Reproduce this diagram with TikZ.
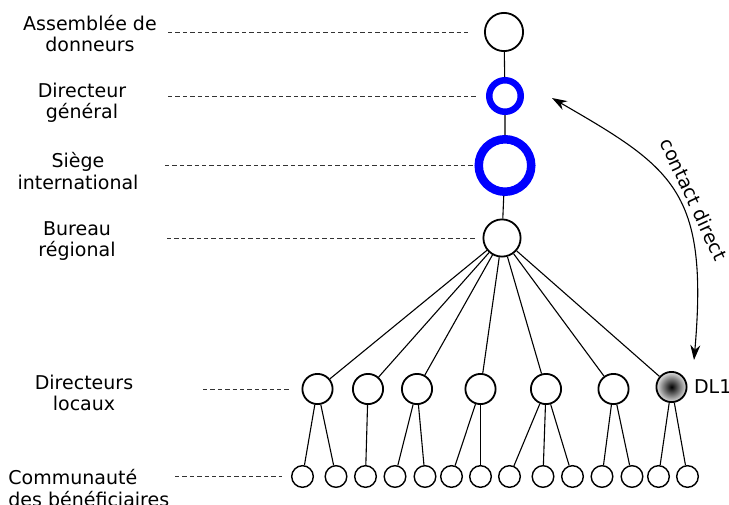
\documentclass[tikz,border=0pt]{standalone}
\usepackage{fontspec}
\setmainfont{DejaVu Sans}
\usetikzlibrary{positioning,arrows.meta}

\begin{document}
\begin{tikzpicture}[x=0.5pt, y=0.5pt,
    lbl/.style={font=\fontsize{9.5}{10.75}\selectfont, align=center, inner sep=0pt},
    unit/.style={circle, draw, line width=0.9pt, inner sep=0pt, fill=white},
    ring/.style={circle, draw=blue, inner sep=0pt, fill=white},
    leaf/.style={circle, draw, line width=0.7pt, inner sep=0pt, minimum size=10.8pt},
    guide/.style={draw=black!80, line width=0.5pt, dash pattern=on 2.2pt off 1.5pt},
    link/.style={line width=0.55pt},
    >={Stealth[length=7.5pt, width=5pt]}]
  \useasboundingbox (0,0) rectangle (729,-504);

  % chain of command
  \node [unit, minimum size=19.1pt] (asm) at (504,-32) {};
  \node [ring, line width=3.25pt, minimum size=15.75pt] (dg) at (505,-96) {};
  \node [ring, line width=4.25pt, minimum size=26.25pt] (hq) at (505,-165.5) {};
  \node [unit, minimum size=18.6pt] (reg) at (502,-238) {};

  % local directors and communities
  \foreach \x [count=\i] in {317.5,368,417,480.5,546,613.5}
    \node [unit, minimum size=15.1pt] (l\i) at (\x,-389) {};
  \node [unit, minimum size=15.1pt, shading=radial, inner color=black, outer color=black!12] (l7) at (671.5,-387) {};
  \foreach \x [count=\i] in {302.5,336,365.5,395,425,451.5,480.5,509.5,543,572.5,602,632,658.5,687.5}
    \node [leaf] (b\i) at (\x,-476.5) {};

  % level names
  \node [lbl] (tasm) at (90,-33.5) {Assemblée de\\donneurs};
  \node [lbl] (tdg) at (82,-103) {Directeur\\général};
  \node [lbl] (thq) at (78,-171) {Siège\\international};
  \node [lbl] (treg) at (77,-241) {Bureau\\régional};
  \node [lbl] (tloc) at (84,-393) {Directeurs\\locaux};
  \node [lbl, align=left, anchor=west] (tcom) at (8,-488) {Communauté\\des bénéficiaires};
  \node [lbl, right=3.1pt of l7] (tdl) {DL1};

  \foreach \nd/\sx/\gap in {asm/168/6.5pt, dg/168/4.5pt, hq/165/0.5pt, reg/167/4pt, l1/203/6pt, b1/175/4.5pt}
    \draw [guide, shorten >=\gap] (\sx,0 |- \nd) -- (\nd);

  \draw [link] (asm) -- (dg) -- (hq) -- (reg);
  \foreach \i in {1,...,7}
    \draw [link] (reg) -- (l\i);
  \foreach \a/\b in {1/1,1/2,2/3,3/4,3/5,4/6,4/7,5/8,5/9,5/10,6/11,6/12,7/13,7/14}
    \draw [link] (l\a) -- (b\b);

  \coordinate (ctop) at (552,-98);
  \coordinate (cbot) at (694,-360);
  \draw [link, <->] (ctop) .. controls +(-30:140) and +(85:170) .. (cbot)
    node [lbl, pos=0.56, sloped, above=3pt] (tcd) {contact direct};
\end{tikzpicture}
\end{document}
